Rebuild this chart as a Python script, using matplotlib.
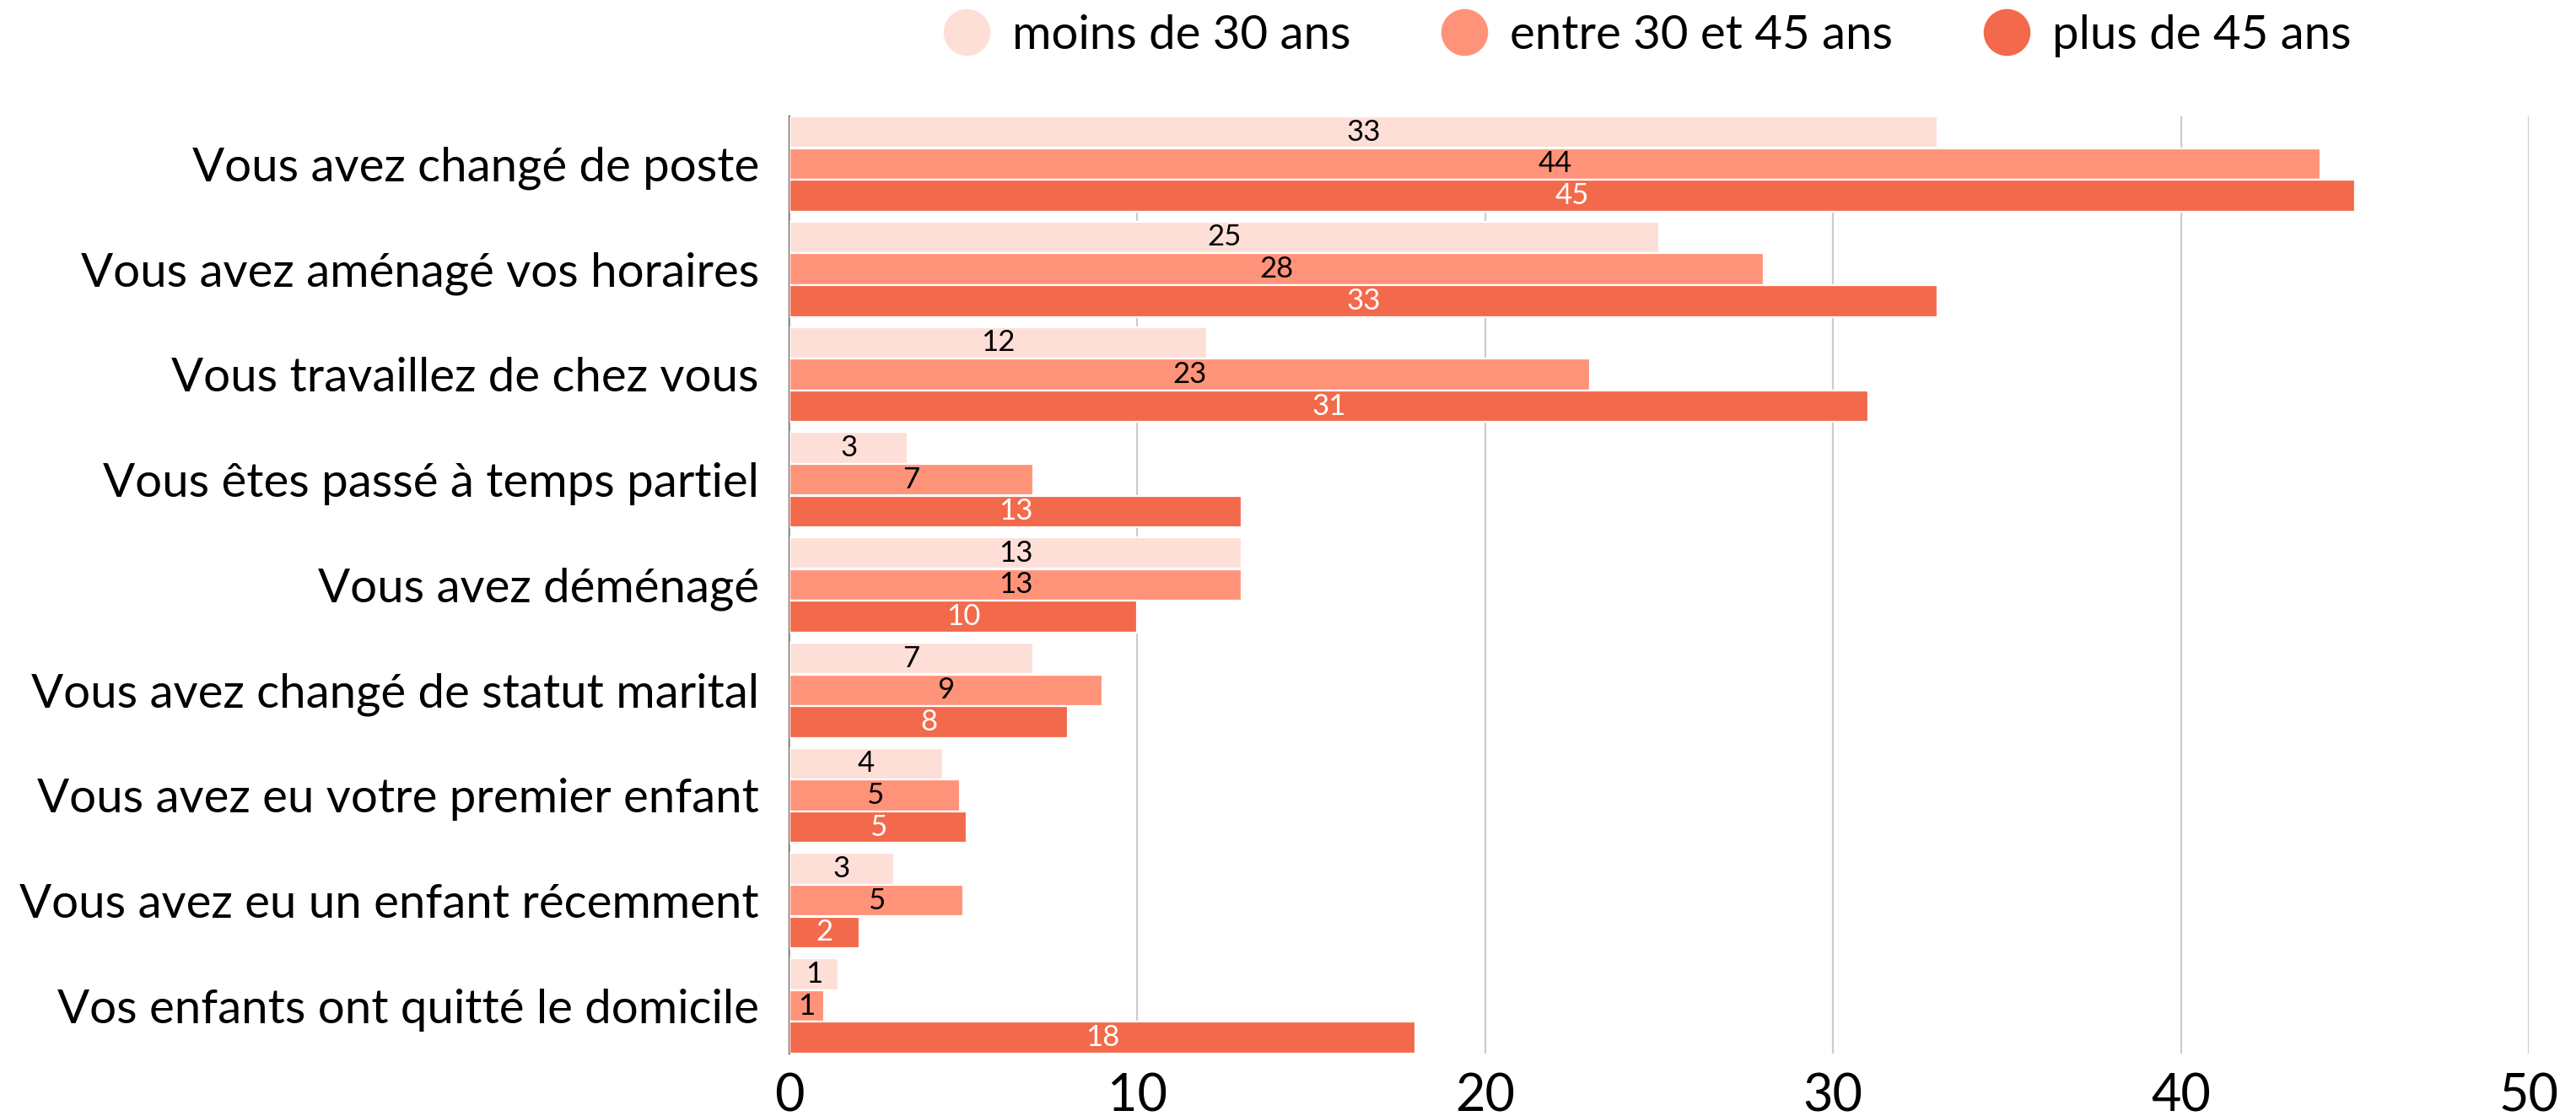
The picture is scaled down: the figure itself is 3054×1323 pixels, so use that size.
import numpy as np
import matplotlib.pyplot as plt
from matplotlib.lines import Line2D

plt.rcParams['font.family'] = ['Lato', 'DejaVu Sans']

# =========================
#  DATA
# =========================
categories = [
    "Vous avez changé de poste",
    "Vous avez aménagé vos horaires",
    "Vous travaillez de chez vous",
    "Vous êtes passé à temps partiel",
    "Vous avez déménagé",
    "Vous avez changé de statut marital",
    "Vous avez eu votre premier enfant",
    "Vous avez eu un enfant récemment",
    "Vos enfants ont quitté le domicile",
]
series_names = ["moins de 30 ans", "entre 30 et 45 ans", "plus de 45 ans"]
moins_30 = [33, 25, 12, 3.4, 13, 7, 4.4, 3, 1.4]
entre_30_45 = [44, 28, 23, 7, 13, 9, 4.9, 5, 1]
plus_45 = [45, 33, 31, 13, 10, 8, 5.1, 2, 18]
x_ticks = [0, 10, 20, 30, 40, 50]

colors = ["#fedfd8", "#ff937a", "#f26a4b"]
label_colors = ["black", "black", "white"]

# =========================
#  FIGURE
# =========================
fig = plt.figure(figsize=(15.27, 6.615), dpi=200)
ax = fig.add_axes([0.3065, 0.056, 0.6752, 0.8397])

y = np.arange(len(categories))
pitch = 0.302
height = 0.30

for i, (vals, col, lcol) in enumerate(zip([moins_30, entre_30_45, plus_45], colors, label_colors)):
    ypos = y + (i - 1) * pitch
    ax.barh(ypos, vals, height=height, color=col, edgecolor="white", linewidth=0.8, zorder=2)
    for yy, v in zip(ypos, vals):
        ax.text(v / 2, yy, f"{v:.0f}", ha="center", va="center", fontsize=12.5,
                color=lcol, zorder=3)

ax.set_xlim(0, 50)
ax.set_ylim(y[-1] + pitch + height / 2, -(pitch + height / 2))
ax.set_xticks(x_ticks)
ax.set_yticks(y)
ax.set_yticklabels(categories, fontsize=20.3)
ax.tick_params(axis="x", length=0, labelsize=22, pad=8)
ax.tick_params(axis="y", length=0, pad=13)

ax.grid(axis="x", color="#cccccc", linewidth=0.8, zorder=0)
for s in ["top", "right", "bottom"]:
    ax.spines[s].set_visible(False)
ax.spines["left"].set_color("#555555")
ax.spines["left"].set_linewidth(0.8)
ax.spines["left"].set_zorder(1)

# legend with circle markers
handles = [Line2D([], [], marker="o", linestyle="none", markersize=19,
                  markerfacecolor=c, markeredgecolor=c) for c in colors]
fig.legend(handles, series_names, loc="center", bbox_to_anchor=(0.6394, 0.968),
           ncol=3, frameon=False, fontsize=20.3, handlelength=1.0,
           handletextpad=0.45, columnspacing=1.9, borderaxespad=0)

plt.savefig("out.png", dpi=200)
plt.close()
